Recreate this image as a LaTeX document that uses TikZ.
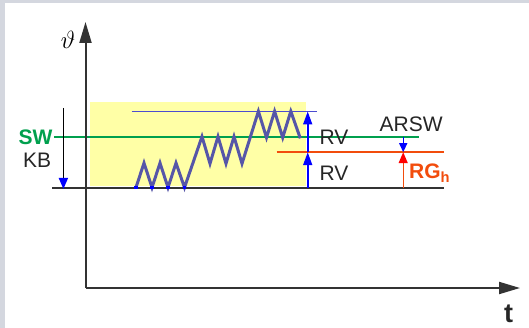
\documentclass[tikz,border=0pt]{standalone}
\usepackage{fontspec}
\setmainfont{Liberation Sans}
\usetikzlibrary{arrows.meta, positioning}
\usepackage{xcolor}

\definecolor{framegray}{HTML}{D4D7DF}
\definecolor{boxyellow}{HTML}{FFFFA6}
\definecolor{axisgray}{HTML}{333333}
\definecolor{swgreen}{HTML}{00A04E}
\definecolor{rgorange}{HTML}{F24C0C}
\definecolor{zigblue}{HTML}{5656A8}
\definecolor{limitblue}{HTML}{4C4CD0}

\begin{document}
\begin{tikzpicture}[x=1pt, y=-1pt,
        lbl/.style={font=\fontsize{21}{24}\selectfont, inner sep=0pt, text=black!85, anchor=base west},
        axis/.style={line width=2pt, draw=axisgray, -{Triangle[length=21pt, width=12pt]}},
        level/.style={line width=1.6pt},
        measure/.style={line width=1.6pt, draw=blue, -{Triangle[length=13pt, width=9pt]}},
        smallmeasure/.style={line width=1.4pt, -{Triangle[length=9pt, width=8pt]}}
    ]

    % frame and hysteresis band
    \fill[framegray] (0,0) rectangle (529,328);
    \fill[white] (5,3) rectangle (529,328);
    \useasboundingbox (0,0) rectangle (529,328);
    \fill[boxyellow] (89.5,102) rectangle (306,186);

    \coordinate (origin) at (85.5,288);
    \coordinate (ytip) at (85.5,22);
    \coordinate (xtip) at (520,288);

    % levels
    \coordinate (base-l) at (52,188.3);   \coordinate (base-r) at (444,188.3);
    \coordinate (sw-l) at (54,137.3);     \coordinate (sw-r) at (418.5,137.3);
    \coordinate (top-l) at (131.5,111.5); \coordinate (top-r) at (317,111.5);
    \coordinate (rg-l) at (276.5,152.2);  \coordinate (rg-r) at (444,152.2);

    \draw[level, draw=axisgray] (base-l) -- (base-r);
    \draw[level, draw=swgreen] (sw-l) -- (sw-r);
    \draw[level, draw=rgorange] (rg-l) -- (rg-r);
    \draw[line width=1.5pt, draw=limitblue] (top-l) -- (top-r);

    % temperature curve
    \draw[line width=3pt, draw=zigblue, line join=miter]
        (136,187.5) -- (144,163) -- (152,187.5) -- (160,163) -- (168,187.5) -- (176,163) -- (184.5,187.5)
        -- (202,136.6) -- (210,163.6) -- (218,136.6) -- (226,163.6) -- (234,136.6) -- (242,163.6)
        -- (258.4,111.3) -- (266.5,137.6) -- (274.6,111.3) -- (282.7,137.6) -- (290.8,111.3) -- (300.3,138.3);
    \foreach \x in {136,152,168,184.5}
        \fill[blue] (\x-1.8,186.3) rectangle (\x+1.8,189.3);

    \draw[axis] (origin) -- (ytip);
    \draw[axis] (origin) -- (xtip);

    % measures
    \coordinate (kb-top) at (63.4,108);
    \coordinate (kb-bot) at (63.4,189);
    \draw[line width=1.6pt, draw=black, -{Triangle[length=11pt, width=9pt, color=blue]}] (kb-top) -- (kb-bot);

    \coordinate (rv-base) at (307.7,188.3);
    \coordinate (rv-mid) at (307.7,152.2);
    \coordinate (rv-top) at (307.7,111.5);
    \draw[measure] (rv-base) -- (rv-mid);
    \draw[measure] (rv-mid) -- (rv-top);

    \coordinate (ar-sw) at (403.2,137.3);
    \coordinate (ar-rg) at (403.2,152.2);
    \coordinate (ar-base) at (403.2,188.3);
    \draw[smallmeasure, draw=blue] (ar-sw) -- (ar-rg);
    \draw[smallmeasure, draw=rgorange, -{Triangle[length=11pt, width=9pt, color=red]}] (ar-base) -- (ar-rg);

    % labels
    \node[font=\fontsize{27}{30}\selectfont, inner sep=0pt] (theta) at (68,40) {$\vartheta$};
    \node[lbl, font=\fontsize{27}{30}\selectfont\bfseries] (t) at (504,322) {t};
    \node[lbl, font=\fontsize{21}{24}\selectfont\bfseries, text=swgreen] (sw) at (18.5,145) {SW};
    \node[lbl] (kb) at (23,168) {KB};
    \node[lbl] (rv1) at (319.5,145) {RV};
    \node[lbl] (rv2) at (319.5,180.5) {RV};
    \node[lbl] (arsw) at (379.5,131.6) {ARSW};
    \node[lbl, font=\fontsize{21}{24}\selectfont\bfseries, text=rgorange] (rgh) at (409,178.8) {RG$_{\mathbf{h}}$};

\end{tikzpicture}
\end{document}
